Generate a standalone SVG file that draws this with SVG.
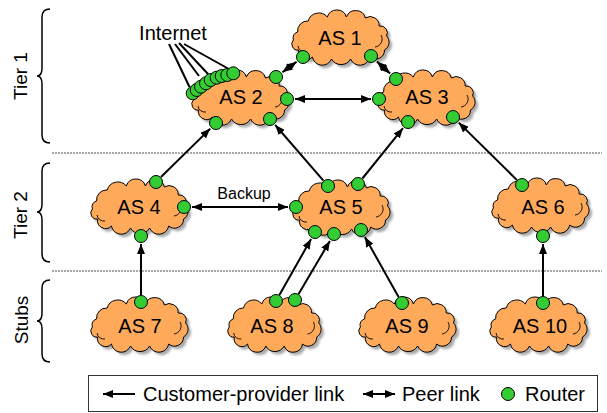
<svg xmlns="http://www.w3.org/2000/svg" xmlns:xlink="http://www.w3.org/1999/xlink" width="607" height="413" viewBox="0 0 607 413">
<style>
text{font-family:"Liberation Sans",Arial,Helvetica,sans-serif;fill:#000}
.lbl{font-size:20px;text-anchor:middle}
.tier{font-size:19px;text-anchor:middle}
.cloud{fill:#ffaa5a;stroke:#000;stroke-width:1}
.curl{fill:none;stroke:#000;stroke-width:0.9}
.shadow{fill:#666;opacity:0.55}
.rt{fill:#33cc33;stroke:#000;stroke-width:1}
.ln{stroke:#000;stroke-width:2;fill:none}
.brace{fill:none;stroke:#000;stroke-width:1.5}
.sep{stroke:#8c8c8c;stroke-width:1.5;stroke-dasharray:2 1}
</style>
<defs>
<filter id="blur" x="-10%" y="-10%" width="120%" height="120%"><feGaussianBlur stdDeviation="1"/></filter>
<path id="cl" d="M -42.4 -6 A 10 10 0 0 1 -31.8 -17 A 11 11 0 0 1 -12.7 -21 A 10 10 0 0 1 6.4 -21 A 10 10 0 0 1 25.4 -20 A 9 9 0 0 1 39.2 -12 A 7 7 0 0 1 46.6 -2 A 9 9 0 0 1 44.5 12 A 9 9 0 0 1 29.7 19 A 10 10 0 0 1 10.6 21 A 11 11 0 0 1 -8.5 21 A 10 10 0 0 1 -27.6 19 A 8 8 0 0 1 -41.3 12 A 6 6 0 0 1 -46.6 2 A 6 6 0 0 1 -42.4 -6 Z"/>
<g id="cloud">
<use xlink:href="#cl" href="#cl" class="shadow" transform="translate(3,3)" filter="url(#blur)"/>
<use xlink:href="#cl" href="#cl" class="cloud"/>
<path class="curl" d="M 41 -3 A 8 8 0 0 1 35 9"/>
<path class="curl" d="M -42 8 A 7 7 0 0 0 -34 14"/>
</g>
<marker id="ah" viewBox="0 0 10 8" refX="10" refY="4" markerWidth="10" markerHeight="8" markerUnits="userSpaceOnUse" orient="auto-start-reverse">
<path d="M0,0 L10,4 L0,8 z" fill="#000"/>
</marker>
</defs>

<g id="tiers">
<text class="tier" transform="translate(27,76) rotate(-90)">Tier 1</text>
<text class="tier" transform="translate(27,215) rotate(-90)">Tier 2</text>
<text class="tier" transform="translate(28,320) rotate(-90)">Stubs</text>
<path class="brace" d="M50,9 Q42,9 42,17 L42,68 Q42,76 37,76 Q42,76 42,84 L42,135 Q42,143 50,143"/>
<path class="brace" d="M50,163 Q42,163 42,171 L42,204 Q42,212 37,212 Q42,212 42,220 L42,254 Q42,262 50,262"/>
<path class="brace" d="M50,280 Q42,280 42,288 L42,313 Q42,321 37,321 Q42,321 42,329 L42,354 Q42,362 50,362"/>
<line class="sep" x1="52" y1="153" x2="602" y2="153"/>
<line class="sep" x1="52" y1="271" x2="602" y2="271"/>
</g>

<g id="as1">
<use xlink:href="#cloud" href="#cloud" transform="translate(340,38)"/>
<text class="lbl" x="340" y="45">AS 1</text>
<circle class="rt" cx="303" cy="57" r="6.5"/>
<circle class="rt" cx="371" cy="56" r="6.5"/>
</g>
<g id="as2">
<use xlink:href="#cloud" href="#cloud" transform="translate(240,98)"/>
<text class="lbl" x="241" y="104">AS 2</text>
<circle class="rt" cx="276" cy="77" r="6.5"/>
<circle class="rt" cx="287" cy="99" r="6.5"/>
<circle class="rt" cx="216" cy="123" r="6.5"/>
<circle class="rt" cx="270" cy="119" r="6.5"/>
<circle class="rt" cx="192.7" cy="93.3" r="6.5"/>
<circle class="rt" cx="196.7" cy="90" r="6.5"/>
<circle class="rt" cx="201" cy="86.7" r="6.5"/>
<circle class="rt" cx="206" cy="83.3" r="6.5"/>
<circle class="rt" cx="210.7" cy="80" r="6.5"/>
<circle class="rt" cx="216.7" cy="77.7" r="6.5"/>
<circle class="rt" cx="221.7" cy="76" r="6.5"/>
<circle class="rt" cx="227.3" cy="75" r="6.5"/>
<circle class="rt" cx="233.3" cy="73.3" r="6.5"/>
</g>
<g id="as3">
<use xlink:href="#cloud" href="#cloud" transform="translate(426,98)"/>
<text class="lbl" x="427" y="104">AS 3</text>
<circle class="rt" cx="396" cy="79" r="6.5"/>
<circle class="rt" cx="379" cy="99" r="6.5"/>
<circle class="rt" cx="408" cy="122" r="6.5"/>
<circle class="rt" cx="453" cy="117" r="6.5"/>
</g>
<g id="as4">
<use xlink:href="#cloud" href="#cloud" transform="translate(139,207)"/>
<text class="lbl" x="139" y="214">AS 4</text>
<circle class="rt" cx="156" cy="182" r="6.5"/>
<circle class="rt" cx="184" cy="207" r="6.5"/>
<circle class="rt" cx="141" cy="236" r="6.5"/>
</g>
<g id="as5">
<use xlink:href="#cloud" href="#cloud" transform="translate(341,208)"/>
<text class="lbl" x="341" y="214">AS 5</text>
<circle class="rt" cx="296" cy="207" r="6.5"/>
<circle class="rt" cx="328" cy="186" r="6.5"/>
<circle class="rt" cx="358" cy="184" r="6.5"/>
<circle class="rt" cx="315" cy="232" r="6.5"/>
<circle class="rt" cx="334" cy="234" r="6.5"/>
<circle class="rt" cx="361" cy="230" r="6.5"/>
</g>
<g id="as6">
<use xlink:href="#cloud" href="#cloud" transform="translate(540,206)"/>
<text class="lbl" x="543" y="214">AS 6</text>
<circle class="rt" cx="522" cy="185" r="6.5"/>
<circle class="rt" cx="543" cy="236" r="6.5"/>
</g>
<g id="as7">
<use xlink:href="#cloud" href="#cloud" transform="translate(139,325)"/>
<text class="lbl" x="140" y="333">AS 7</text>
<circle class="rt" cx="141" cy="302" r="6.5"/>
</g>
<g id="as8">
<use xlink:href="#cloud" href="#cloud" transform="translate(274,325) scale(0.96,1)"/>
<text class="lbl" x="272" y="333">AS 8</text>
<circle class="rt" cx="276" cy="301" r="6.5"/>
<circle class="rt" cx="295" cy="300" r="6.5"/>
</g>
<g id="as9">
<use xlink:href="#cloud" href="#cloud" transform="translate(407,325)"/>
<text class="lbl" x="407" y="333">AS 9</text>
<circle class="rt" cx="402" cy="303" r="6.5"/>
</g>
<g id="as10">
<use xlink:href="#cloud" href="#cloud" transform="translate(538,325)"/>
<text class="lbl" x="540" y="333">AS 10</text>
<circle class="rt" cx="543" cy="303" r="6.5"/>
</g>

<g id="internet">
<text class="lbl" x="173" y="40">Internet</text>
</g>

<g id="connectors">
<g class="ln" stroke-width="1.5">
<line x1="169" y1="44" x2="189.5" y2="87"/>
<line x1="175" y1="44" x2="199" y2="76"/>
<line x1="179" y1="43" x2="208" y2="74"/>
<line x1="184" y1="44" x2="228" y2="68.5"/>
</g>
<g class="ln" marker-end="url(#ah)">
<line x1="161" y1="177" x2="210.3" y2="128.6"/>
<line x1="323.4" y1="180.7" x2="275.2" y2="125"/>
<line x1="362.4" y1="178.5" x2="403" y2="128.2"/>
<line x1="517" y1="180.1" x2="458.7" y2="122.6"/>
<line x1="141" y1="295" x2="141" y2="244"/>
<line x1="279.4" y1="294.9" x2="311.1" y2="239"/>
<line x1="298.6" y1="294" x2="329.9" y2="240.9"/>
<line x1="398.6" y1="296.9" x2="364.9" y2="237"/>
<line x1="543" y1="296" x2="543" y2="244"/>
</g>
<g class="ln" marker-start="url(#ah)" marker-end="url(#ah)">
<line x1="296.6" y1="61.8" x2="282.4" y2="72.2"/>
<line x1="376.9" y1="61.4" x2="390.1" y2="73.6"/>
<line x1="295" y1="99" x2="371" y2="99"/>
<line x1="192" y1="207" x2="288" y2="207"/>
</g>
<text x="244" y="199" style="font-size:16px;text-anchor:middle">Backup</text>
</g>

<g id="legend">
<rect x="88.5" y="375.5" width="509" height="36" fill="none" stroke="#333" stroke-width="1"/>
<line class="ln" x1="135" y1="394" x2="103" y2="394" marker-end="url(#ah)"/>
<text x="143" y="401" style="font-size:20px">Customer-provider link</text>
<line class="ln" x1="363" y1="394" x2="395" y2="394" marker-start="url(#ah)" marker-end="url(#ah)"/>
<text x="402" y="401" style="font-size:20px">Peer link</text>
<circle class="rt" cx="508" cy="394" r="6.5"/>
<text x="525" y="401" style="font-size:20px">Router</text>
</g>
</svg>
